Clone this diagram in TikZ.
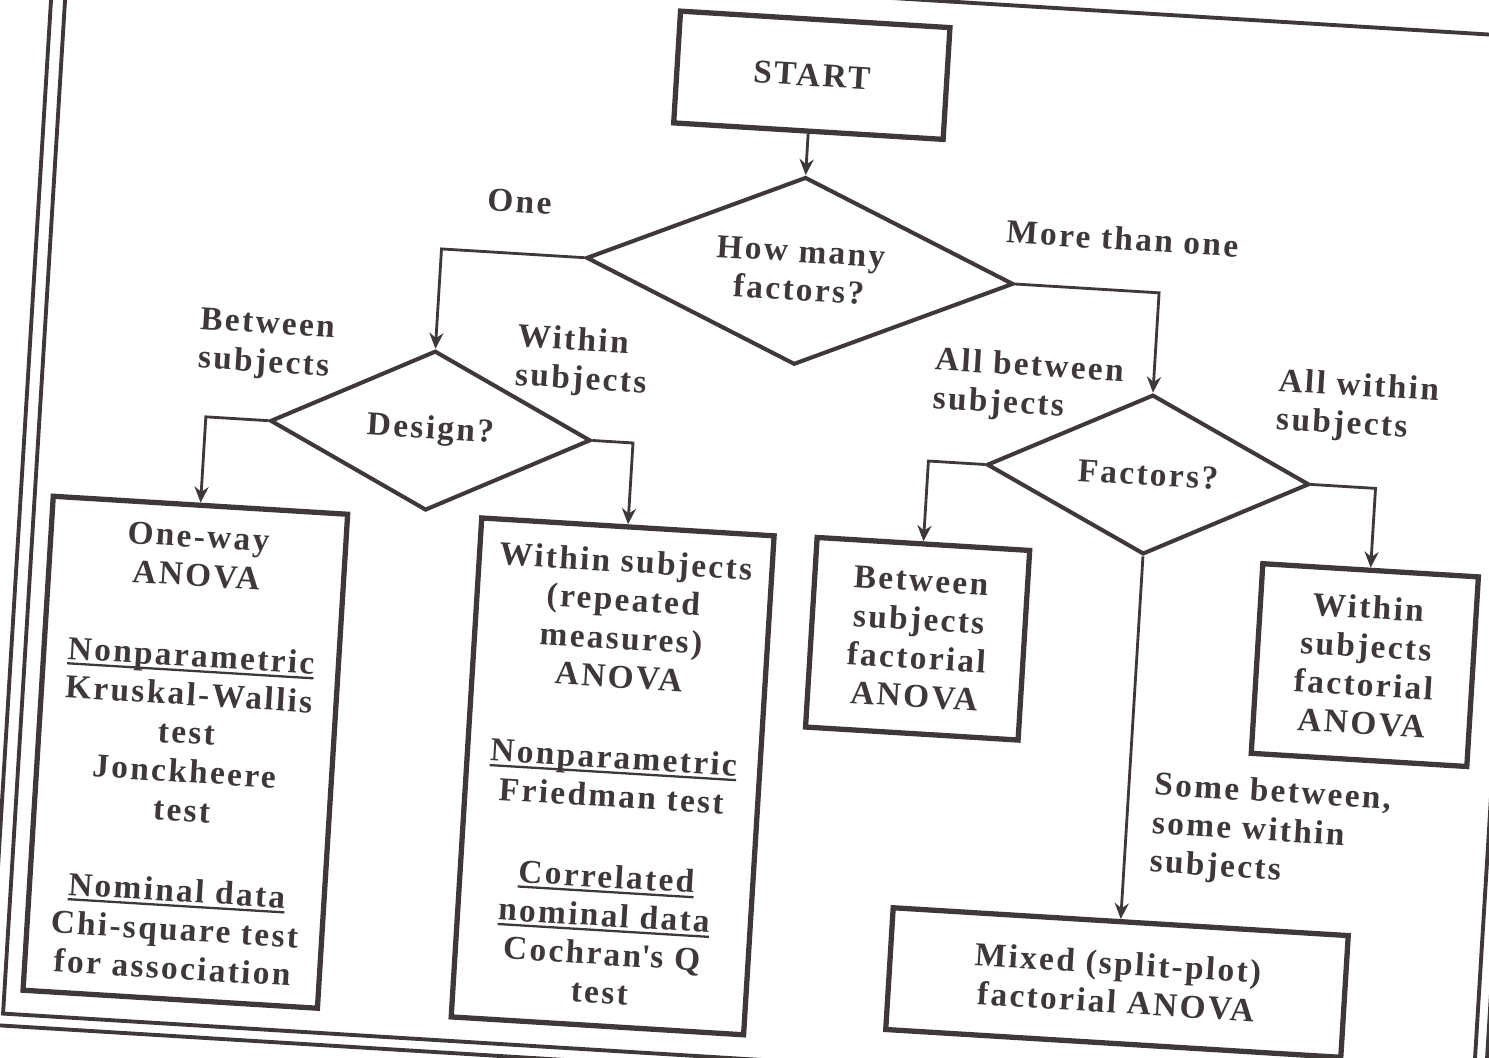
\documentclass[tikz,border=0pt]{standalone}
\usepackage{fontspec}
\setmainfont{Liberation Serif}[LetterSpace=7]
\usetikzlibrary{shapes.geometric,arrows.meta}
\definecolor{ink}{RGB}{62,56,56}
\newcommand{\myul}[1]{\setbox0\hbox{#1}\rlap{\smash{\rule[-3pt]{\wd0}{1.3pt}}}\box0}
\begin{document}
\begin{tikzpicture}[x=0.02cm,y=-0.02cm,
  every node/.style={font=\fontsize{19}{22}\selectfont\bfseries, text=ink},
  box/.style={draw=ink, line width=3pt, rectangle, align=center, inner sep=0pt},
  dec/.style={draw=ink, line width=2.3pt, diamond, aspect=2.2, align=center, inner sep=0pt},
  arr/.style={draw=ink, line width=1.6pt, -{Stealth[length=9pt,width=8pt]}},
  lab/.style={align=left, inner sep=0pt},
  frame/.style={draw=ink, line width=2.2pt}]
\useasboundingbox (0,0) rectangle (1489,1058);
\fill[white] (0,0) rectangle (1489,1058);
\clip (0,0) rectangle (1489,1058);
\begin{scope}[rotate around={-3.5:(745,529)}, transform shape]
\draw[frame] (34,-10) rectangle (1506,1058);
\draw[frame] (20,-70) rectangle (1518,1070);

\node[box, minimum width=5.4cm, minimum height=2.24cm] (start) at (784,72) {START};
\node[dec, minimum width=8.56cm, minimum height=3.76cm] (q1) at (784,268) {How many\\factors?};
\node[dec, minimum width=6.42cm, minimum height=3.2cm] (q2) at (425,450) {Design?};
\node[dec, minimum width=6.46cm, minimum height=3.2cm] (q3) at (1144,450) {Factors?};

\node[box, minimum width=5.9cm, minimum height=9.9cm] (oneway) at (200,786)
  {One-way\\ANOVA\\[24pt]\myul{Nonparametric}\\Kruskal-Wallis\\test\\Jonckheere\\test\\[24pt]\myul{Nominal data}\\Chi-square test\\for association};
\node[box, minimum width=5.86cm, minimum height=10cm] (within) at (628,784)
  {Within subjects\\(repeated\\measures)\\ANOVA\\[24pt]\myul{Nonparametric}\\Friedman test\\[24pt]\myul{Correlated}\\\myul{nominal data}\\Cochran\textquotesingle s Q\\test};
\node[box, minimum width=4.26cm, minimum height=3.8cm] (btwf) at (924,628)
  {Between\\subjects\\factorial\\ANOVA};
\node[box, minimum width=4.32cm, minimum height=3.8cm] (witf) at (1372,627)
  {Within\\subjects\\factorial\\ANOVA};
\node[box, minimum width=9.12cm, minimum height=2.44cm] (mixed) at (1144,959)
  {Mixed (split-plot)\\factorial ANOVA};

\node[lab] (lone) at (500,216) {One};
\node[lab] (lmore) at (1104,216) {More than one};
\node[lab] (lbs) at (256,375) {Between\\subjects};
\node[lab] (lws) at (572,372) {Within\\subjects};
\node[lab] (lab) at (1019,370) {All between\\subjects};
\node[lab] (law) at (1349,370) {All within\\subjects};
\node[lab] (lsome) at (1288,800) {Some between,\\some within\\subjects};

\coordinate (k1) at (425,268);
\coordinate (k2) at (1144,268);
\coordinate (k3) at (200,450);
\coordinate (k4) at (628,450);
\coordinate (k5) at (924,450);
\coordinate (k6) at (1372,450);

\draw[arr] (start) -- (q1.north);
\draw[arr] (q1.west) -- (k1) -- (q2.north);
\draw[arr] (q1.east) -- (k2) -- (q3.north);
\draw[arr] (q2.west) -- (k3) -- (oneway.north);
\draw[arr] (q2.east) -- (k4) -- (within.north);
\draw[arr] (q3.west) -- (k5) -- (btwf.north);
\draw[arr] (q3.east) -- (k6) -- (witf.north);
\draw[arr] (q3.south) -- (mixed.north);
\end{scope}
\end{tikzpicture}
\end{document}
